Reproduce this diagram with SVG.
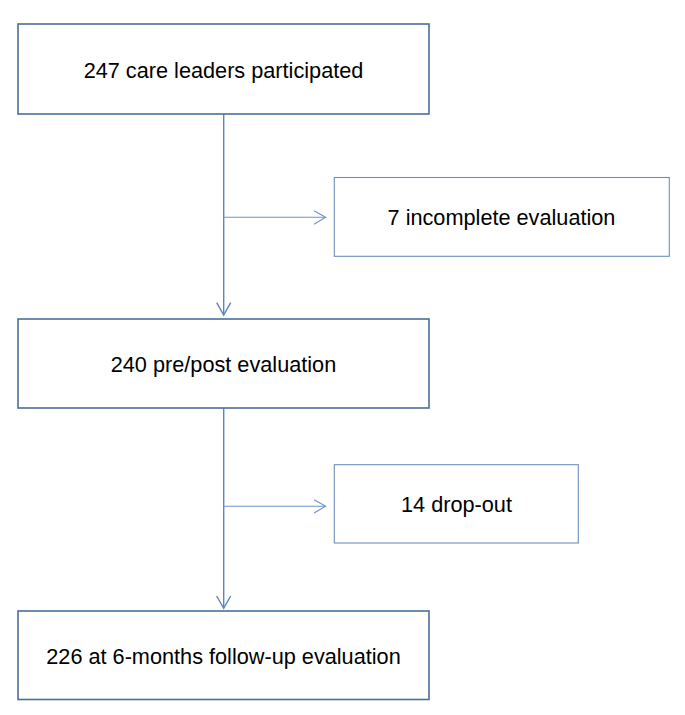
<svg xmlns="http://www.w3.org/2000/svg" width="685" height="715" viewBox="0 0 685 715">
<style>
.main{fill:#fff;stroke:#4a6e9c;stroke-width:1.6}
.side{fill:#fff;stroke:#6f8fbb;stroke-width:1.1}
.t{font-family:"Liberation Sans",Arial,sans-serif;font-size:21.7px;fill:#000;text-anchor:middle}
.ln{fill:none;stroke:#5a86c2;stroke-width:1.4}
.ln2{fill:none;stroke:#6b93cb;stroke-width:1.1}
</style>
<rect width="685" height="715" fill="#fff"/>
<g id="connectors">
<path class="ln" d="M223.7,114 V314"/>
<path class="ln" d="M216.7,302.7 L223.7,315 L230.7,302.7"/>
<path class="ln2" d="M223.7,217.3 H325"/>
<path class="ln2" d="M314,210.7 L325.7,217.3 L314,224.3"/>
<path class="ln" d="M223.7,407 V607"/>
<path class="ln" d="M216.7,596 L223.7,608.3 L230.7,596"/>
<path class="ln2" d="M223.7,506.3 H325"/>
<path class="ln2" d="M314,499.7 L325.7,506.3 L314,513"/>
</g>
<g id="n1">
<rect class="main" x="18" y="24" width="411" height="90"/>
<text class="t" x="223.5" y="78">247 care leaders participated</text>
</g>
<g id="n2">
<rect class="side" x="334.3" y="177.5" width="335" height="78.8"/>
<text class="t" x="501.5" y="225">7 incomplete evaluation</text>
</g>
<g id="n3">
<rect class="main" x="18" y="319" width="411" height="89"/>
<text class="t" x="223.5" y="372">240 pre/post evaluation</text>
</g>
<g id="n4">
<rect class="side" x="334.3" y="464.7" width="244" height="78.3"/>
<text class="t" x="456.5" y="512">14 drop-out</text>
</g>
<g id="n5">
<rect class="main" x="18" y="611" width="411" height="88.5"/>
<text class="t" x="223.5" y="664">226 at 6-months follow-up evaluation</text>
</g>
</svg>
